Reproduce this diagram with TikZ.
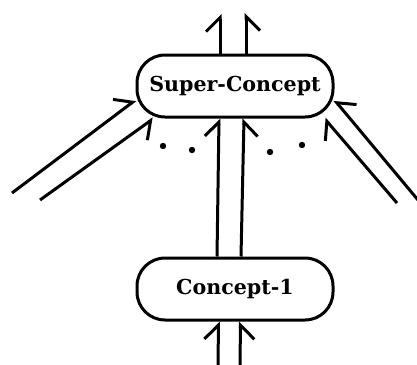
\documentclass[tikz,border=0pt]{standalone}
\usepackage{tikz}
\usepackage{fontspec}
\setmainfont{DejaVu Serif}
\usetikzlibrary{arrows.meta,positioning}
\tikzset{
    concept-box/.style = {draw, rectangle, rounded corners=14pt, line width=1.5pt, minimum width=98pt, minimum height=31pt, inner sep=0pt, font=\fontsize{10.3}{12}\selectfont\bfseries},
    link-left/.style = {line width=1.5pt, -{Straight Barb[left, length=7pt, width=14pt, line width=1.5pt]}},
    link-right/.style = {line width=1.5pt, -{Straight Barb[right, length=7pt, width=14pt, line width=1.5pt]}},
}
\begin{document}
\begin{tikzpicture}[x=0.5pt, y=-0.5pt]
\useasboundingbox (0,0) rectangle (417,364);
\node [concept-box] (super) at (235,86) {Super-Concept};
\node [concept-box, below=69pt of super] (concept) {Concept-1};
% free ends
\coordinate (up-l) at (220,14);
\coordinate (up-r) at (246,13);
\coordinate (in-l) at (218,366);
\coordinate (in-r) at (240,366);
\coordinate (far-l) at (12,193);
\coordinate (near-l) at (40,200);
\coordinate (far-r) at (418,200);
\coordinate (near-r) at (397,203);
% links
\draw[link-left] ([xshift=-7.5pt]super.north) -- (up-l);
\draw[link-right] ([xshift=5.5pt]super.north) -- (up-r);
\draw[link-left] ([xshift=-9pt]concept.north) -- ([xshift=-8pt]super.south);
\draw[link-right] ([xshift=3pt]concept.north) -- ([xshift=4.5pt]super.south);
\draw[link-left] (in-l) -- ([xshift=-8.25pt]concept.south);
\draw[link-right] (in-r) -- ([xshift=2.75pt]concept.south);
\draw[link-left] (far-l) -- ([yshift=-7pt]super.west);
\draw[link-right] (near-l) -- ([xshift=9pt]super.south west);
\draw[link-right] (far-r) -- ([yshift=-7pt]super.east);
\draw[link-left] (near-r) -- ([xshift=-5pt]super.south east);
% dots
\fill (163,146) circle (1.6pt) (192,150) circle (1.6pt);
\fill (270,152) circle (1.6pt) (302,145) circle (1.6pt);
\end{tikzpicture}
\end{document}
